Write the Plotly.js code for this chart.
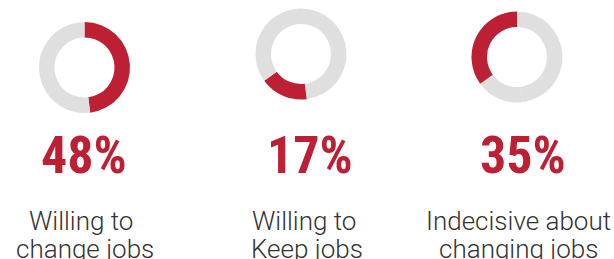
<!DOCTYPE html>
<html><head><meta charset="utf-8">
<script src="https://cdn.plot.ly/plotly-3.0.1.min.js"></script>
<style>body{margin:0;background:#fff;}</style>
</head><body>
<div id="chart" style="width:614px;height:259px;"></div>
<script>
// Data
const categories = ["Willing to change jobs", "Willing to Keep jobs", "Indecisive about changing jobs"];
const shares = [48, 17, 35];
const percentLabels = ["48%", "17%", "35%"];
const labelLine1 = ["Willing to", "Willing to", "Indecisive about"];
const labelLine2 = ["change jobs", "Keep jobs", "changing jobs"];

// Styles / layout
const RED = "#BD1F34", GREY = "#DFDFDF", TXT = "#333333";
const W = 614, H = 259;
const donutCenters = [[84.5, 67.5], [301, 54], [517, 57]];
const R = 45.5;
const numX = [84, 310, 523];
const line1X = [81, 304, 518.5];
const line2X = [84.5, 307, 518];
const numBaseline = 173, l1Baseline = 230, l2Baseline = 257.5;
const numSize = 52, lblSize = 26;

const traces = categories.map((cat, i) => {
  const [cx, cy] = donutCenters[i];
  return {
    type: "pie",
    labels: categories,
    values: shares,
    sort: false,
    direction: "clockwise",
    rotation: 0,
    hole: 0.66,
    textinfo: "none",
    hoverinfo: "label+percent",
    showlegend: false,
    marker: { colors: categories.map((_, j) => j === i ? RED : GREY), line: { width: 0 } },
    domain: { x: [(cx - R) / W, (cx + R) / W], y: [(H - cy - R) / H, (H - cy + R) / H] }
  };
});

const py = px => (H - px) / H;
const annotations = [];
categories.forEach((cat, i) => {
  annotations.push({
    xref: "paper", yref: "paper", x: numX[i] / W, y: py(numBaseline - 0.34 * numSize),
    xanchor: "center", yanchor: "middle", showarrow: false, text: percentLabels[i],
    font: { family: "Roboto Condensed, Roboto, sans-serif", size: numSize, color: RED, weight: 700 }
  });
  annotations.push({
    xref: "paper", yref: "paper", x: line1X[i] / W, y: py(l1Baseline - 0.34 * lblSize),
    xanchor: "center", yanchor: "middle", showarrow: false, text: labelLine1[i],
    font: { family: "Roboto, sans-serif", size: lblSize, color: TXT, weight: 300 }
  });
  annotations.push({
    xref: "paper", yref: "paper", x: line2X[i] / W, y: py(l2Baseline - 0.34 * lblSize),
    xanchor: "center", yanchor: "middle", showarrow: false, text: labelLine2[i],
    font: { family: "Roboto, sans-serif", size: lblSize, color: TXT, weight: 300 }
  });
});

Plotly.newPlot("chart", traces, {
  width: W, height: H,
  margin: { l: 0, r: 0, t: 0, b: 0 },
  paper_bgcolor: "#fff", plot_bgcolor: "#fff",
  annotations: annotations
}, { staticPlot: true });
</script>
</body></html>
